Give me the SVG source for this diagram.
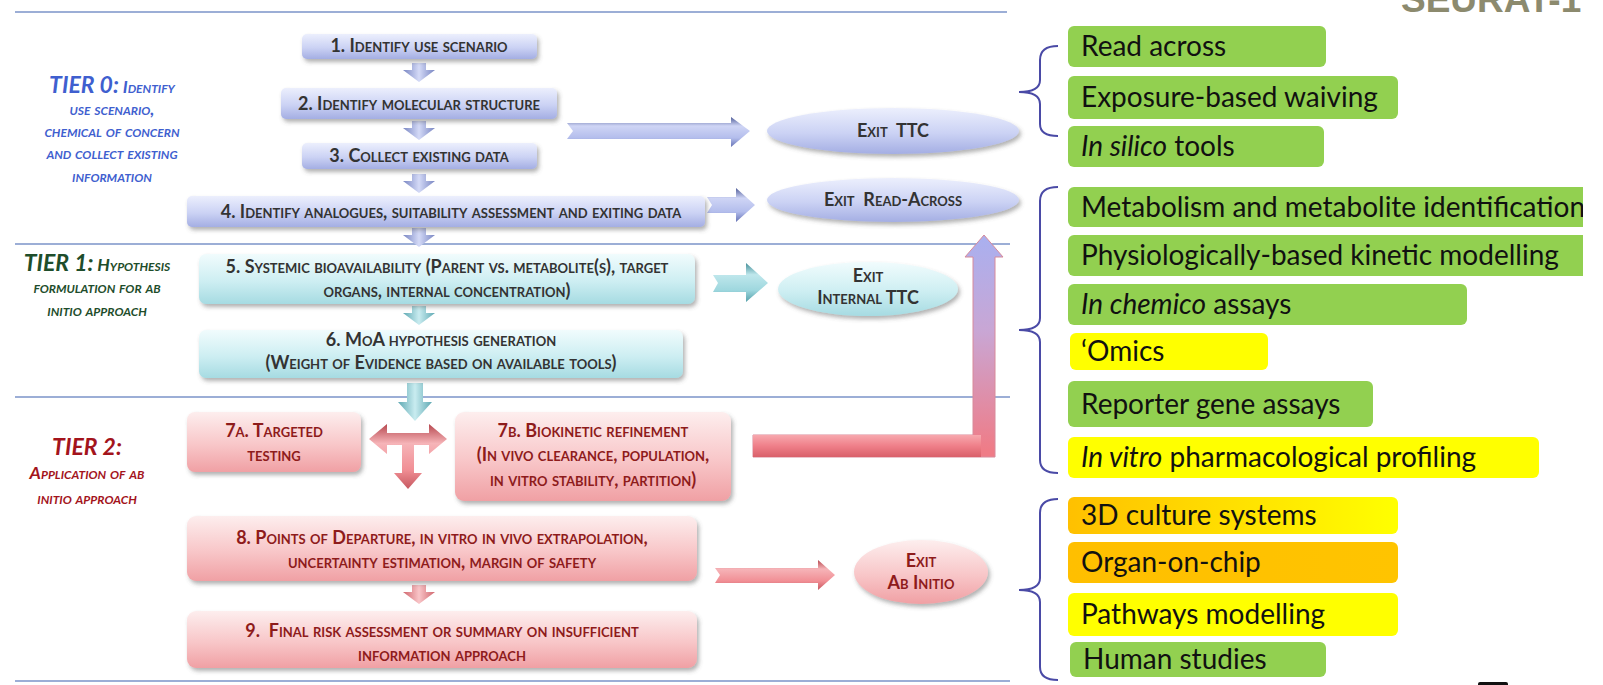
<svg xmlns="http://www.w3.org/2000/svg" width="1603" height="685" viewBox="0 0 1603 685">
<style>
.ft{font-family:Lato,"Open Sans","Liberation Sans",sans-serif;font-weight:bold;font-variant:small-caps;font-size:18px;text-anchor:middle;fill:#333}
.fr{fill:#8e1b1b}
.tier{font-family:Lato,"Open Sans","Liberation Sans",sans-serif;font-weight:bold;font-style:italic;font-variant:small-caps;font-size:17.5px;text-anchor:middle}
.big{font-size:23px}
.rt{font-family:Lato,"Open Sans","Liberation Sans",sans-serif;font-size:28px;fill:#111}
.sep{stroke:#7b93c9;stroke-width:1.6;fill:none}
.brace{stroke:#4a4aa6;stroke-width:2;fill:none}
.green{fill:#92d050}
.yellow{fill:#ffff00}
</style>
<defs>
<linearGradient id="gBlue" x1="0" y1="0" x2="0" y2="1"><stop offset="0" stop-color="#eceffd"/><stop offset="0.55" stop-color="#cbd2f4"/><stop offset="1" stop-color="#a4aee3"/></linearGradient>
<linearGradient id="gCyan" x1="0" y1="0" x2="0" y2="1"><stop offset="0" stop-color="#f1fcfd"/><stop offset="0.55" stop-color="#cdeef2"/><stop offset="1" stop-color="#a6dbe2"/></linearGradient>
<linearGradient id="gPink" x1="0" y1="0" x2="0" y2="1"><stop offset="0" stop-color="#fdeeee"/><stop offset="0.55" stop-color="#f8c6c8"/><stop offset="1" stop-color="#f0a0a4"/></linearGradient>
<linearGradient id="aBlue" x1="0" y1="0" x2="0" y2="1"><stop offset="0" stop-color="#4f5c98"/><stop offset="0.3" stop-color="#cfd5f5"/><stop offset="0.7" stop-color="#b3bdec"/><stop offset="1" stop-color="#6572b4"/></linearGradient>
<linearGradient id="aCyan" x1="0" y1="0" x2="0" y2="1"><stop offset="0" stop-color="#458f99"/><stop offset="0.3" stop-color="#bfe7ec"/><stop offset="0.7" stop-color="#9ed7de"/><stop offset="1" stop-color="#56a1ab"/></linearGradient>
<linearGradient id="aPink" x1="0" y1="0" x2="0" y2="1"><stop offset="0" stop-color="#b6474e"/><stop offset="0.3" stop-color="#f6b4b8"/><stop offset="0.7" stop-color="#f18f95"/><stop offset="1" stop-color="#c65860"/></linearGradient>
<linearGradient id="dBlue" x1="0" y1="0" x2="1" y2="0"><stop offset="0" stop-color="#7885c2"/><stop offset="0.5" stop-color="#d4daf7"/><stop offset="1" stop-color="#7885c2"/></linearGradient>
<linearGradient id="dCyan" x1="0" y1="0" x2="1" y2="0"><stop offset="0" stop-color="#5fa9b3"/><stop offset="0.5" stop-color="#c9ecf0"/><stop offset="1" stop-color="#5fa9b3"/></linearGradient>
<linearGradient id="dPink" x1="0" y1="0" x2="1" y2="0"><stop offset="0" stop-color="#d0666d"/><stop offset="0.5" stop-color="#f9c5c8"/><stop offset="1" stop-color="#d0666d"/></linearGradient>
<linearGradient id="gL" gradientUnits="userSpaceOnUse" x1="0" y1="235" x2="0" y2="450"><stop offset="0" stop-color="#a9b0f0"/><stop offset="0.45" stop-color="#c9a6d4"/><stop offset="1" stop-color="#ef7c87"/></linearGradient>
<linearGradient id="gLh" x1="0" y1="0" x2="0" y2="1"><stop offset="0" stop-color="#f7a8ae"/><stop offset="0.5" stop-color="#ef7f89"/><stop offset="1" stop-color="#d9606a"/></linearGradient>
<linearGradient id="gOr" x1="0" y1="0" x2="1" y2="0"><stop offset="0" stop-color="#ffc000"/><stop offset="0.5" stop-color="#ffe000"/><stop offset="1" stop-color="#ffff00"/></linearGradient>
<linearGradient id="gOr2" x1="0" y1="0" x2="1" y2="0"><stop offset="0" stop-color="#ffbf00"/><stop offset="1" stop-color="#ffc400"/></linearGradient>
<filter id="sh" x="-10%" y="-20%" width="120%" height="150%"><feDropShadow dx="2" dy="3" stdDeviation="2" flood-color="#555" flood-opacity="0.45"/></filter>
<path id="dn" d="M-7,0 L7,0 L7,7 L16,7 L0,19 L-16,7 L-7,7 Z"/>
<clipPath id="rc"><rect x="0" y="0" width="1583" height="685"/></clipPath>
</defs>

<!-- separators -->
<g id="separators">
<line class="sep" x1="15" y1="12" x2="1007" y2="12"/>
<line class="sep" x1="15" y1="244" x2="1010" y2="244"/>
<line class="sep" x1="15" y1="397" x2="1010" y2="397"/>
<line class="sep" x1="15" y1="681" x2="1010" y2="681"/>
</g>

<!-- tier labels -->
<g id="tier0">
<text class="tier" fill="#3f5fcf" x="112" y="93"><tspan class="big">TIER 0:</tspan> Identify</text>
<text class="tier" fill="#3f5fcf" x="112" y="115">use scenario,</text>
<text class="tier" fill="#3f5fcf" x="112" y="137">chemical of concern</text>
<text class="tier" fill="#3f5fcf" x="112" y="159">and collect existing</text>
<text class="tier" fill="#3f5fcf" x="112" y="182">information</text>
</g>
<g id="tier1">
<text class="tier" fill="#1e4d2b" x="97" y="271"><tspan class="big">TIER 1:</tspan> Hypothesis</text>
<text class="tier" fill="#1e4d2b" x="97" y="293">formulation for ab</text>
<text class="tier" fill="#1e4d2b" x="97" y="316">initio approach</text>
</g>
<g id="tier2">
<text class="tier big" fill="#a3141c" x="87" y="455">TIER 2:</text>
<text class="tier" fill="#a3141c" x="87" y="479">Application of ab</text>
<text class="tier" fill="#a3141c" x="87" y="504">initio approach</text>
</g>

<!-- connectors -->
<g id="connectors">
<use href="#dn" x="419" y="63" fill="url(#dBlue)"/>
<use href="#dn" x="419" y="121" fill="url(#dBlue)"/>
<use href="#dn" x="419" y="174" fill="url(#dBlue)"/>
<use href="#dn" x="419" y="228" fill="url(#dBlue)"/>
<use href="#dn" x="419" y="306" fill="url(#dCyan)"/>
<use href="#dn" x="419" y="585" fill="url(#dPink)"/>
<polygon points="407,383 423,383 423,402 432,402 415,421 398,402 407,402" fill="url(#dCyan)"/>
<!-- T arrow -->
<polygon points="369,439 387,424 387,433 429,433 429,424 447,439 429,454 429,445 414,445 414,473 422,473 408,489 394,473 402,473 402,445 387,445 387,454" fill="url(#aPink)"/>
<!-- exit arrows -->
<polygon points="567,123 731,123 731,117 750,131 731,147 731,139 567,139 573,131" fill="url(#aBlue)"/>
<polygon points="707,197 736,197 736,188 755,205 736,222 736,213 707,213 712,205" fill="url(#aBlue)"/>
<polygon points="713,275 746,275 746,263 768,283 746,302 746,292 713,292 718,283" fill="url(#aCyan)"/>
<polygon points="715,568 818,568 818,560 835,575 818,590 818,583 715,583 720,575" fill="url(#aPink)"/>
<!-- L arrow -->
<polygon points="753,435 973,435 973,257 965,257 984,235 1003,257 995,257 995,457 753,457" fill="url(#gL)" stroke="#d88a9a" stroke-width="1"/>
<rect x="753" y="435" width="228" height="22" fill="url(#gLh)"/>
</g>

<!-- flow nodes -->
<g id="n1"><rect x="302" y="34" width="235" height="25" rx="5" fill="url(#gBlue)" filter="url(#sh)"/><text class="ft" x="419" y="52">1. Identify use scenario</text></g>
<g id="n2"><rect x="281" y="88" width="276" height="31" rx="5" fill="url(#gBlue)" filter="url(#sh)"/><text class="ft" x="419" y="110">2. Identify molecular structure</text></g>
<g id="n3"><rect x="302" y="143" width="235" height="26" rx="5" fill="url(#gBlue)" filter="url(#sh)"/><text class="ft" x="419" y="162">3. Collect existing data</text></g>
<g id="n4"><rect x="187" y="196" width="518" height="31" rx="5" fill="url(#gBlue)" filter="url(#sh)"/><text class="ft" x="451" y="218">4. Identify analogues, suitability assessment and exiting data</text></g>
<g id="n5"><rect x="199" y="254" width="496" height="50" rx="7" fill="url(#gCyan)" filter="url(#sh)"/><text class="ft" x="447" y="273">5. Systemic bioavailability (Parent vs. metabolite(s), target</text><text class="ft" x="447" y="297">organs, internal concentration)</text></g>
<g id="n6"><rect x="199" y="330" width="484" height="48" rx="7" fill="url(#gCyan)" filter="url(#sh)"/><text class="ft" x="441" y="346">6. MoA hypothesis generation</text><text class="ft" x="441" y="369">(Weight of Evidence based on available tools)</text></g>
<g id="n7a"><rect x="187" y="412" width="174" height="60" rx="8" fill="url(#gPink)" filter="url(#sh)"/><text class="ft fr" x="274" y="437">7a. Targeted</text><text class="ft fr" x="274" y="461">testing</text></g>
<g id="n7b"><rect x="455" y="412" width="276" height="89" rx="9" fill="url(#gPink)" filter="url(#sh)"/><text class="ft fr" x="593" y="437">7b. Biokinetic refinement</text><text class="ft fr" x="593" y="461">(In vivo clearance, population,</text><text class="ft fr" x="593" y="486">in vitro stability, partition)</text></g>
<g id="n8"><rect x="187" y="516" width="510" height="65" rx="9" fill="url(#gPink)" filter="url(#sh)"/><text class="ft fr" x="442" y="544">8. Points of Departure, in vitro in vivo extrapolation,</text><text class="ft fr" x="442" y="568">uncertainty estimation, margin of safety</text></g>
<g id="n9"><rect x="187" y="611" width="510" height="57" rx="9" fill="url(#gPink)" filter="url(#sh)"/><text class="ft fr" x="442" y="637" xml:space="preserve">9.  Final risk assessment or summary on insufficient</text><text class="ft fr" x="442" y="661">information approach</text></g>

<!-- exits -->
<g id="exitTTC"><ellipse cx="893" cy="131" rx="126" ry="23" fill="url(#gBlue)" filter="url(#sh)"/><text class="ft" x="893" y="137" xml:space="preserve">Exit  TTC</text></g>
<g id="exitRA"><ellipse cx="893" cy="200" rx="126" ry="22" fill="url(#gBlue)" filter="url(#sh)"/><text class="ft" x="893" y="206" xml:space="preserve">Exit  Read-Across</text></g>
<g id="exitITTC"><ellipse cx="868" cy="289" rx="90" ry="27" fill="url(#gCyan)" filter="url(#sh)"/><text class="ft" x="868" y="282">Exit</text><text class="ft" x="868" y="304">Internal TTC</text></g>
<g id="exitAbI"><ellipse cx="921" cy="572" rx="67" ry="32" fill="url(#gPink)" filter="url(#sh)"/><text class="ft fr" x="921" y="567">Exit</text><text class="ft fr" x="921" y="589">Ab Initio</text></g>

<!-- braces -->
<g id="braces">
<path class="brace" d="M1058,46 Q1040,46 1040,60 L1040,80 Q1040,92 1019,92 Q1040,92 1040,104 L1040,124 Q1040,136 1058,136"/>
<path class="brace" d="M1058,187 Q1040,187 1040,201 L1040,318 Q1040,330 1019,330 Q1040,330 1040,342 L1040,460 Q1040,473 1058,473"/>
<path class="brace" d="M1058,499 Q1040,499 1040,513 L1040,578 Q1040,590 1019,590 Q1040,590 1040,602 L1040,667 Q1040,680 1058,680"/>
</g>

<!-- right side tool boxes -->
<g id="r1"><rect class="green" x="1068" y="26" width="258" height="41" rx="6"/><text class="rt" x="1081" y="56">Read across</text></g>
<g id="r2"><rect class="green" x="1068" y="76" width="330" height="43" rx="6"/><text class="rt" x="1081" y="107">Exposure-based waiving</text></g>
<g id="r3"><rect class="green" x="1068" y="126" width="256" height="41" rx="6"/><text class="rt" x="1081" y="156"><tspan font-style="italic">In silico</tspan> tools</text></g>
<g id="r4" clip-path="url(#rc)"><rect class="green" x="1068" y="187" width="540" height="40" rx="6"/><text class="rt" x="1081" y="217">Metabolism and metabolite identification</text></g>
<g id="r5" clip-path="url(#rc)"><rect class="green" x="1068" y="235" width="540" height="41" rx="6"/><text class="rt" x="1081" y="265">Physiologically-based kinetic modelling</text></g>
<g id="r6"><rect class="green" x="1068" y="284" width="399" height="41" rx="6"/><text class="rt" x="1081" y="314"><tspan font-style="italic">In chemico</tspan> assays</text></g>
<g id="r7"><rect class="yellow" x="1070" y="333" width="198" height="37" rx="6"/><text class="rt" x="1081" y="361">‘Omics</text></g>
<g id="r8"><rect class="green" x="1068" y="381" width="305" height="46" rx="6"/><text class="rt" x="1081" y="414">Reporter gene assays</text></g>
<g id="r9"><rect class="yellow" x="1068" y="437" width="471" height="41" rx="6"/><text class="rt" x="1081" y="467"><tspan font-style="italic">In vitro</tspan> pharmacological profiling</text></g>
<g id="r10"><rect x="1068" y="497" width="330" height="37" rx="6" fill="url(#gOr)"/><text class="rt" x="1081" y="525">3D culture systems</text></g>
<g id="r11"><rect x="1068" y="542" width="330" height="41" rx="6" fill="url(#gOr2)"/><text class="rt" x="1081" y="572">Organ-on-chip</text></g>
<g id="r12"><rect class="yellow" x="1068" y="593" width="330" height="43" rx="6"/><text class="rt" x="1081" y="624">Pathways modelling</text></g>
<g id="r13"><rect class="green" x="1070" y="642" width="256" height="35" rx="6"/><text class="rt" x="1083" y="669">Human studies</text></g>

<!-- header & footer fragments -->
<text x="1401" y="12" font-family="'Liberation Sans',Arial,sans-serif" font-weight="bold" font-size="37px" fill="#8c8a6e">SEURAT-1</text>
<rect x="1478" y="682" width="30" height="6" rx="2" fill="#111"/>
</svg>
